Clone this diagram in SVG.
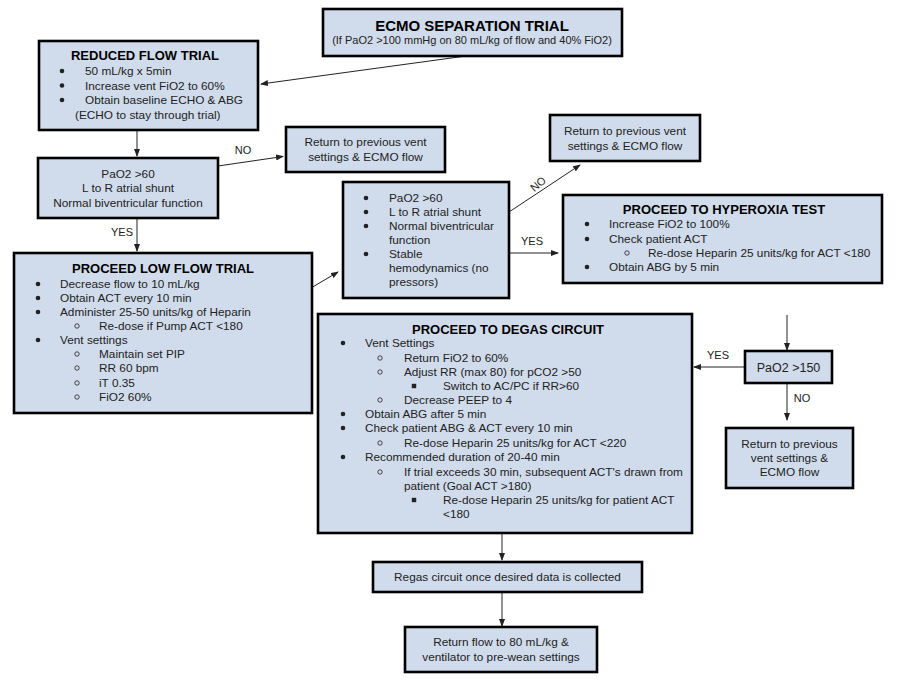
<svg xmlns="http://www.w3.org/2000/svg" width="898" height="686" viewBox="0 0 898 686">
<style>
.box{fill:#d0dcec;stroke:#000;stroke-width:2.6}
text{font-family:"Liberation Sans",Arial,sans-serif;font-size:11.8px;fill:#222}
.t{font-weight:bold;font-size:13px;text-anchor:middle;fill:#000}
.c{text-anchor:middle}
.lbl{font-size:11px}
.cn{fill:none;stroke:#222;stroke-width:1;marker-end:url(#ah)}
</style>
<defs>
<marker id="ah" markerWidth="8" markerHeight="6" refX="7" refY="3" orient="auto" markerUnits="userSpaceOnUse">
<path d="M0,0 L8,3 L0,6 z" fill="#222"/>
</marker>
<circle id="b1" r="2.3" fill="#222"/>
<circle id="b2" r="2.2" fill="none" stroke="#222" stroke-width="0.8"/>
<rect id="b3" x="-2.2" y="-2.2" width="4.4" height="4.4" fill="#222"/>
</defs>

<g id="connectors">
<path class="cn" d="M466,56 L261,84"/>
<path class="cn" d="M137,130 L137,156"/>
<path class="cn" d="M218,166 L283,156.5"/>
<text class="lbl c" x="243" y="154">NO</text>
<path class="cn" d="M137,218 L137,251"/>
<text class="lbl c" x="122" y="236">YES</text>
<path class="cn" d="M311,288 L338,272"/>
<path class="cn" d="M509,212 L580,165"/>
<text class="lbl c" x="538" y="188" transform="rotate(-40 538 184)">NO</text>
<path class="cn" d="M509,253 L558,253"/>
<text class="lbl c" x="532" y="245">YES</text>
<path class="cn" d="M787,315 L787,350"/>
<path class="cn" d="M745,367 L694,367"/>
<text class="lbl c" x="718" y="359">YES</text>
<path class="cn" d="M787,383 L787,420"/>
<text class="lbl c" x="802" y="402">NO</text>
<path class="cn" d="M502,533 L502,560"/>
<path class="cn" d="M502,592 L502,626"/>
</g>

<g id="ecmo-separation-trial">
<rect class="box" x="323" y="9" width="299" height="47"/>
<text class="t" x="472" y="31" style="font-size:15px">ECMO SEPARATION TRIAL</text>
<text class="c" x="472" y="44" style="font-size:11px">(If PaO2 &gt;100 mmHg on 80 mL/kg of flow and 40% FiO2)</text>
</g>

<g id="reduced-flow-trial">
<rect class="box" x="39" y="41" width="219" height="89"/>
<text class="t" x="145" y="60">REDUCED FLOW TRIAL</text>
<use href="#b1" x="62" y="71"/><text x="85" y="75">50 mL/kg x 5min</text>
<use href="#b1" x="62" y="85.5"/><text x="85" y="89.5">Increase vent FiO2 to 60%</text>
<use href="#b1" x="62" y="100"/><text x="85" y="104">Obtain baseline ECHO &amp; ABG</text>
<text x="75" y="118.5">(ECHO to stay through trial)</text>
</g>

<g id="pao2-60">
<rect class="box" x="38" y="158" width="180" height="60"/>
<text class="c" x="128" y="177.5">PaO2 &gt;60</text>
<text class="c" x="128" y="192">L to R  atrial shunt</text>
<text class="c" x="128" y="206.5">Normal biventricular function</text>
</g>

<g id="return-1">
<rect class="box" x="286" y="127" width="159" height="45"/>
<text class="c" x="365.5" y="146">Return to previous vent</text>
<text class="c" x="365.5" y="161">settings &amp; ECMO flow</text>
</g>

<g id="low-flow-trial">
<rect class="box" x="14" y="253" width="298" height="160"/>
<text class="t" x="163" y="273">PROCEED LOW FLOW TRIAL</text>
<use href="#b1" x="38" y="284"/><text x="60" y="288">Decrease flow to 10 mL/kg</text>
<use href="#b1" x="38" y="298"/><text x="60" y="302">Obtain ACT every 10 min</text>
<use href="#b1" x="38" y="312"/><text x="60" y="316">Administer 25-50 units/kg of Heparin</text>
<use href="#b2" x="77" y="326"/><text x="99" y="330">Re-dose if Pump ACT &lt;180</text>
<use href="#b1" x="38" y="340"/><text x="60" y="344">Vent settings</text>
<use href="#b2" x="77" y="354"/><text x="99" y="358">Maintain set PIP</text>
<use href="#b2" x="77" y="368"/><text x="99" y="372">RR 60 bpm</text>
<use href="#b2" x="77" y="383"/><text x="99" y="387">iT 0.35</text>
<use href="#b2" x="77" y="397"/><text x="99" y="401">FiO2 60%</text>
</g>

<g id="criteria">
<rect class="box" x="343" y="182" width="166" height="116"/>
<use href="#b1" x="366" y="198"/><text x="389" y="202">PaO2 &gt;60</text>
<use href="#b1" x="366" y="212"/><text x="389" y="216">L to R atrial shunt</text>
<use href="#b1" x="366" y="226"/><text x="389" y="230">Normal biventricular</text>
<text x="389" y="244">function</text>
<use href="#b1" x="366" y="254"/><text x="389" y="258">Stable</text>
<text x="389" y="272">hemodynamics (no</text>
<text x="389" y="286">pressors)</text>
</g>

<g id="return-2">
<rect class="box" x="550" y="115" width="150" height="46"/>
<text class="c" x="625" y="134.5">Return to previous vent</text>
<text class="c" x="625" y="149.5">settings &amp; ECMO flow</text>
</g>

<g id="hyperoxia-test">
<rect class="box" x="563" y="195" width="319" height="88"/>
<text class="t" x="724" y="214">PROCEED TO HYPEROXIA TEST</text>
<use href="#b1" x="587" y="224"/><text x="609" y="228">Increase FiO2 to 100%</text>
<use href="#b1" x="587" y="239"/><text x="609" y="243">Check patient ACT</text>
<use href="#b2" x="627" y="253"/><text x="648" y="257">Re-dose Heparin 25 units/kg for ACT &lt;180</text>
<use href="#b1" x="587" y="267"/><text x="609" y="271">Obtain ABG by 5 min</text>
</g>

<g id="degas-circuit">
<rect class="box" x="318" y="314" width="374" height="219"/>
<text class="t" x="508" y="334">PROCEED TO DEGAS CIRCUIT</text>
<use href="#b1" x="343" y="343"/><text x="365" y="347">Vent Settings</text>
<use href="#b2" x="380" y="358"/><text x="404" y="362">Return FiO2 to 60%</text>
<use href="#b2" x="380" y="372"/><text x="404" y="376">Adjust RR (max 80) for pCO2 &gt;50</text>
<use href="#b3" x="414" y="386"/><text x="443" y="390">Switch to AC/PC if RR&gt;60</text>
<use href="#b2" x="380" y="400"/><text x="404" y="404">Decrease PEEP to 4</text>
<use href="#b1" x="343" y="414"/><text x="365" y="418">Obtain ABG after 5 min</text>
<use href="#b1" x="343" y="428"/><text x="365" y="432">Check patient ABG &amp; ACT every 10 min</text>
<use href="#b2" x="380" y="443"/><text x="404" y="447">Re-dose Heparin 25 units/kg for ACT &lt;220</text>
<use href="#b1" x="343" y="457"/><text x="365" y="461">Recommended duration of 20-40 min</text>
<use href="#b2" x="380" y="472"/><text x="404" y="476">If trial exceeds 30 min, subsequent ACT's drawn from</text>
<text x="404" y="490">patient (Goal ACT &gt;180)</text>
<use href="#b3" x="414" y="500"/><text x="443" y="504">Re-dose Heparin 25 units/kg for patient ACT</text>
<text x="443" y="518">&lt;180</text>
</g>

<g id="pao2-150">
<rect class="box" x="745" y="351" width="87" height="32"/>
<text class="c" x="788.5" y="372" style="font-size:12.5px">PaO2 &gt;150</text>
</g>

<g id="return-3">
<rect class="box" x="726" y="428" width="127" height="60"/>
<text class="c" x="789.5" y="448">Return to previous</text>
<text class="c" x="789.5" y="462">vent settings &amp;</text>
<text class="c" x="789.5" y="476">ECMO flow</text>
</g>

<g id="regas">
<rect class="box" x="373" y="562" width="269" height="30"/>
<text class="c" x="507.5" y="581">Regas circuit once desired data is collected</text>
</g>

<g id="return-flow">
<rect class="box" x="405" y="627" width="192" height="45"/>
<text class="c" x="501" y="646">Return flow to 80 mL/kg &amp;</text>
<text class="c" x="501" y="661">ventilator to pre-wean settings</text>
</g>
</svg>
